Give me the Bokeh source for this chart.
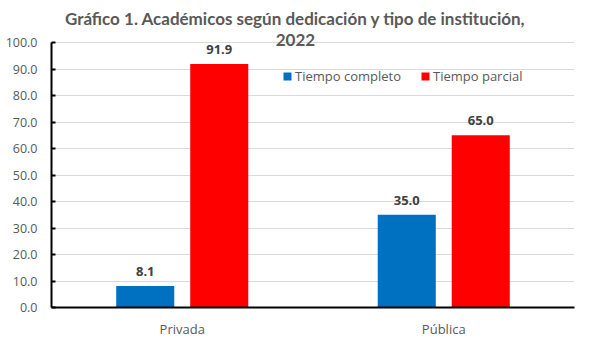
from bokeh.plotting import figure
from bokeh.models import (ColumnDataSource, Range1d, FactorRange, FixedTicker, PrintfTickFormatter,
                          LabelSet, Label, Legend, LegendItem)
from bokeh.transform import dodge
from bokeh.embed import file_html
from bokeh.resources import INLINE
from bokeh.core.properties import value

categories = ["Privada", "Pública"]
tiempo_completo = [8.1, 35.0]
tiempo_parcial = [91.9, 65.0]
series_names = ["Tiempo completo", "Tiempo parcial"]
y_ticks = [0, 10, 20, 30, 40, 50, 60, 70, 80, 90, 100]
title_line1 = "Gráfico 1. Académicos según dedicación y tipo de institución,"
title_line2 = "2022"

BLUE = "#0070C0"
RED = "#FF0000"
GRAY = "#595959"

src = ColumnDataSource(dict(
    cat=categories,
    tc=tiempo_completo,
    tp=tiempo_parcial,
    tc_lbl=["%.1f" % v for v in tiempo_completo],
    tp_lbl=["%.1f" % v for v in tiempo_parcial],
))

p = figure(x_range=FactorRange(*categories), y_range=Range1d(0, 115.85),
           width=585, height=345, output_backend="svg", toolbar_location=None,
           min_border_left=51, min_border_right=11, min_border_top=0, min_border_bottom=38)
p.outline_line_color = None
p.background_fill_color = "white"
p.border_fill_color = "white"

off = 0.1415
bw = 0.222
r1 = p.vbar(x=dodge("cat", -off, range=p.x_range), top="tc", width=bw, source=src,
            fill_color=BLUE, line_color=None)
r2 = p.vbar(x=dodge("cat", off, range=p.x_range), top="tp", width=bw, source=src,
            fill_color=RED, line_color=None)

for col, lbl, o in (("tc", "tc_lbl", -off), ("tp", "tp_lbl", off)):
    ls = LabelSet(x=dodge("cat", o, range=p.x_range), y=col, text=lbl, source=src,
                  text_align="center", text_baseline="bottom", y_offset=10,
                  text_font=value("Open Sans"), text_font_style="bold",
                  text_font_size="13px", text_color="#404040")
    p.add_layout(ls)

# axes
p.yaxis.ticker = FixedTicker(ticks=y_ticks)
p.yaxis.bounds = (0, 100)
p.yaxis.formatter = PrintfTickFormatter(format="%.1f")
p.yaxis.axis_line_color = "black"
p.yaxis.axis_line_width = 2
p.yaxis.major_tick_in = 4
p.yaxis.major_tick_out = 0
p.yaxis.major_tick_line_color = "black"
p.yaxis.major_tick_line_width = 2
p.yaxis.minor_tick_line_color = None
p.yaxis.major_label_standoff = 14
p.yaxis.major_label_text_font = "Open Sans"
p.yaxis.major_label_text_font_size = "12.5px"
p.yaxis.major_label_text_color = GRAY

p.xaxis.axis_line_color = "black"
p.xaxis.axis_line_width = 2
p.xaxis.major_tick_line_color = None
p.xaxis.minor_tick_line_color = None
p.xaxis.major_label_standoff = 6
p.xaxis.major_label_text_font = "Open Sans"
p.xaxis.major_label_text_font_size = "13px"
p.xaxis.major_label_text_color = GRAY

p.xgrid.grid_line_color = None
p.ygrid.grid_line_color = "#d9d9d9"
p.ygrid.grid_line_width = 1

# legend
legend = Legend(items=[LegendItem(label=series_names[0], renderers=[r1]),
                       LegendItem(label=series_names[1], renderers=[r2])],
                orientation="horizontal", location=(231, 222),
                glyph_width=10, glyph_height=10, label_height=12, label_standoff=3,
                spacing=19, padding=0, margin=0, border_line_color=None,
                background_fill_alpha=0,
                label_text_font="Open Sans", label_text_font_size="13px",
                label_text_color=GRAY)
p.add_layout(legend)

# title as labels
for txt, yy in ((title_line1, 109.1), (title_line2, 100.8)):
    p.add_layout(Label(x=0.933, y=yy, text=txt, text_align="center", text_baseline="middle",
                       text_font="Lato", text_font_style="bold", text_font_size="17px",
                       text_color=GRAY))

open("out.html", "w").write(file_html(p, INLINE))
